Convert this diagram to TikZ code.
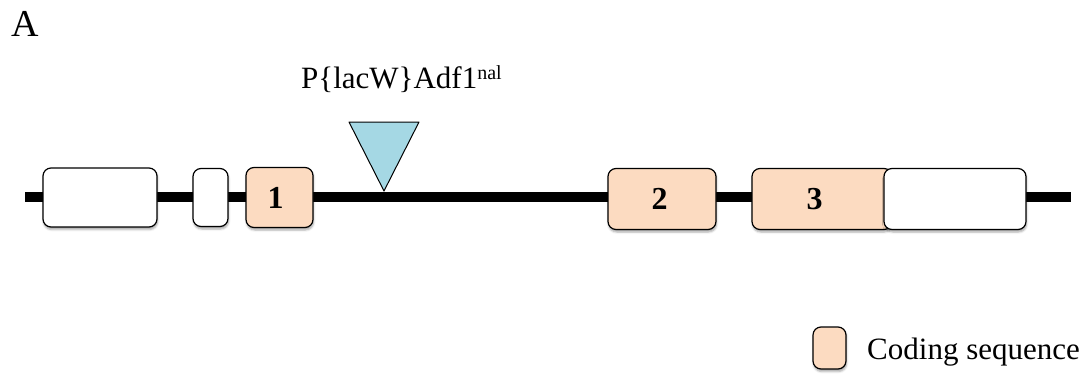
\documentclass[tikz,border=0pt]{standalone}
\usepackage{fontspec}
\setmainfont{Liberation Serif}
\usetikzlibrary{shadows.blur}
\definecolor{cdsfill}{RGB}{252,219,193}
\definecolor{insertfill}{RGB}{165,216,228}
\tikzset{
  exon/.style={draw=black, line width=1.2pt, rounded corners=8pt, inner sep=0pt,
    blur shadow={shadow xshift=0.6pt, shadow yshift=-2.5pt, shadow blur radius=2pt, shadow opacity=35}},
  utr/.style={exon, fill=white},
  coding/.style={exon, fill=cdsfill, font=\fontsize{32}{34}\selectfont\bfseries},
  lbl/.style={inner sep=0pt, anchor=base west, font=\fontsize{31}{34}\selectfont},
  backbone/.style={line width=10pt},
  transposon/.style={draw=black, line width=1pt, fill=insertfill, line join=round}
}
\begin{document}
\begin{tikzpicture}[x=1pt,y=-1pt]
\useasboundingbox (0,0) rectangle (1092,375);

% panel letter
\node[lbl, font=\fontsize{38}{40}\selectfont] (panel) at (11,36) {A};

% gene backbone
\coordinate (gL) at (25,197);
\coordinate (gR) at (1071,197);
\draw[backbone] (gL) -- (gR);

% exons
\node[utr, minimum width=114pt, minimum height=59pt] (u1) at (100,197.5) {};
\node[utr, minimum width=35pt, minimum height=58pt] (u2) at (210.5,197.5) {};
\node[coding, minimum width=67pt, minimum height=60pt] (e1) at (279.5,197.5) {1\kern8pt};
\node[coding, minimum width=108pt, minimum height=61pt] (e2) at (662,199) {2\kern5pt};
\node[coding, minimum width=140pt, minimum height=61pt] (e3) at (822,199) {3\kern15pt};
\node[utr, minimum width=142pt, minimum height=61pt] (u3) at (955,199) {};

% insertion site
\coordinate (ins) at (384,191);
\node[lbl] (allele) at (301,88) {P\{lacW\}Adf1\raisebox{9pt}{\fontsize{20}{20}\selectfont nal}};
\draw[transposon] (349,122) -- (419,122) -- (ins) -- cycle;

% legend
\node[coding, minimum width=33pt, minimum height=42pt] (key) at (829.5,348) {};
\node[lbl] (keytext) at (867,359) {Coding sequence};
\end{tikzpicture}
\end{document}
